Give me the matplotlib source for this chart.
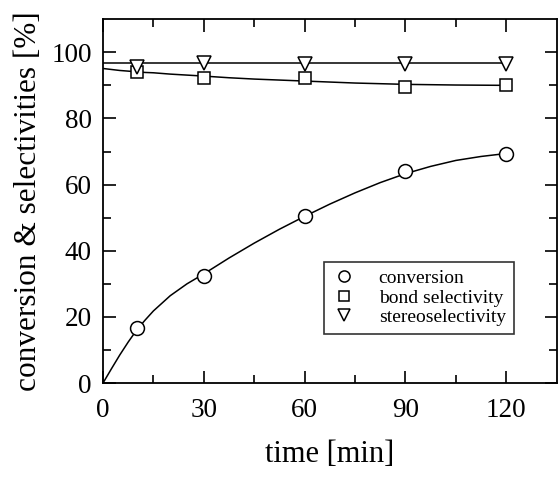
import matplotlib
matplotlib.use("Agg")
from matplotlib import pyplot as plt
import numpy as np

plt.rcParams['font.family'] = ['Liberation Serif', 'DejaVu Serif']
plt.rcParams['mathtext.fontset'] = 'stix'

# measured points
time = [10, 30, 60, 90, 120]
conversion = [16.7, 32.4, 50.6, 64.2, 69.1]
bond_sel = [94.0, 92.1, 92.1, 89.5, 90.0]
stereo_sel = [95.5, 96.8, 96.6, 96.4, 96.6]

# fitted curves
fit_t = [0, 2.5, 5, 7.5, 10, 12.5, 15, 20, 25, 30, 37.5, 45, 52.5, 60, 67.5, 75, 82.5, 90, 97.5, 105, 112.5, 120]
conv_fit = [0, 4.3, 8.5, 12.4, 16.0, 19.0, 21.8, 26.4, 30.0, 33.0, 37.8, 42.3, 46.5, 50.4, 54.1, 57.5, 60.6, 63.3, 65.5, 67.3, 68.5, 69.4]
bond_fit = [95.1, 94.8, 94.5, 94.3, 94.1, 93.9, 93.8, 93.4, 93.1, 92.8, 92.3, 91.9, 91.6, 91.3, 91.0, 90.7, 90.5, 90.3, 90.2, 90.1, 90.05, 90.0]
stereo_fit = [96.8] * len(fit_t)

fig = plt.figure(figsize=(5.58, 4.8), dpi=100)
ax = fig.add_axes([0.1846, 0.202, 0.813, 0.758])

ax.plot(fit_t, conv_fit, color='black', lw=1.1)
ax.plot(fit_t, bond_fit, color='black', lw=1.1)
ax.plot(fit_t, stereo_fit, color='black', lw=1.1)

ax.plot(time, conversion, 'o', ms=10, mfc='white', mec='black', mew=1.1, ls='none', label='conversion')
ax.plot(time, bond_sel, 's', ms=9, mfc='white', mec='black', mew=1.1, ls='none', label='bond selectivity')
ax.plot(time, stereo_sel, 'v', ms=10, mfc='white', mec='black', mew=1.1, ls='none', label='stereoselectivity')

ax.set_xlim(0, 135)
ax.set_ylim(0, 110)
ax.set_xticks([0, 30, 60, 90, 120])
ax.set_xticks(np.arange(15, 135, 30), minor=True)
ax.set_yticks([0, 20, 40, 60, 80, 100])
ax.set_yticks(np.arange(10, 110, 20), minor=True)
ax.tick_params(which='both', direction='in', top=True, right=True, width=1.2, labelsize=19.5)
ax.tick_params(axis='x', which='both', pad=11)
ax.tick_params(axis='y', which='both', pad=8)
ax.tick_params(which='major', length=9)
ax.tick_params(which='minor', length=6)
for s in ax.spines.values():
    s.set_linewidth(1.3)

ax.set_xlabel('time [min]', fontsize=22, labelpad=12)
ax.set_ylabel('conversion & selectivities [%]', fontsize=22.5, labelpad=6)

leg = ax.legend(loc='lower right', bbox_to_anchor=(0.905, 0.135), fontsize=14, frameon=True,
                fancybox=False, edgecolor='black', handlelength=1.2, handletextpad=1.2,
                borderpad=0.4, labelspacing=0.1, markerscale=0.8, borderaxespad=0)
leg.get_frame().set_linewidth(1.2)

fig.savefig('out.png', dpi=100)
